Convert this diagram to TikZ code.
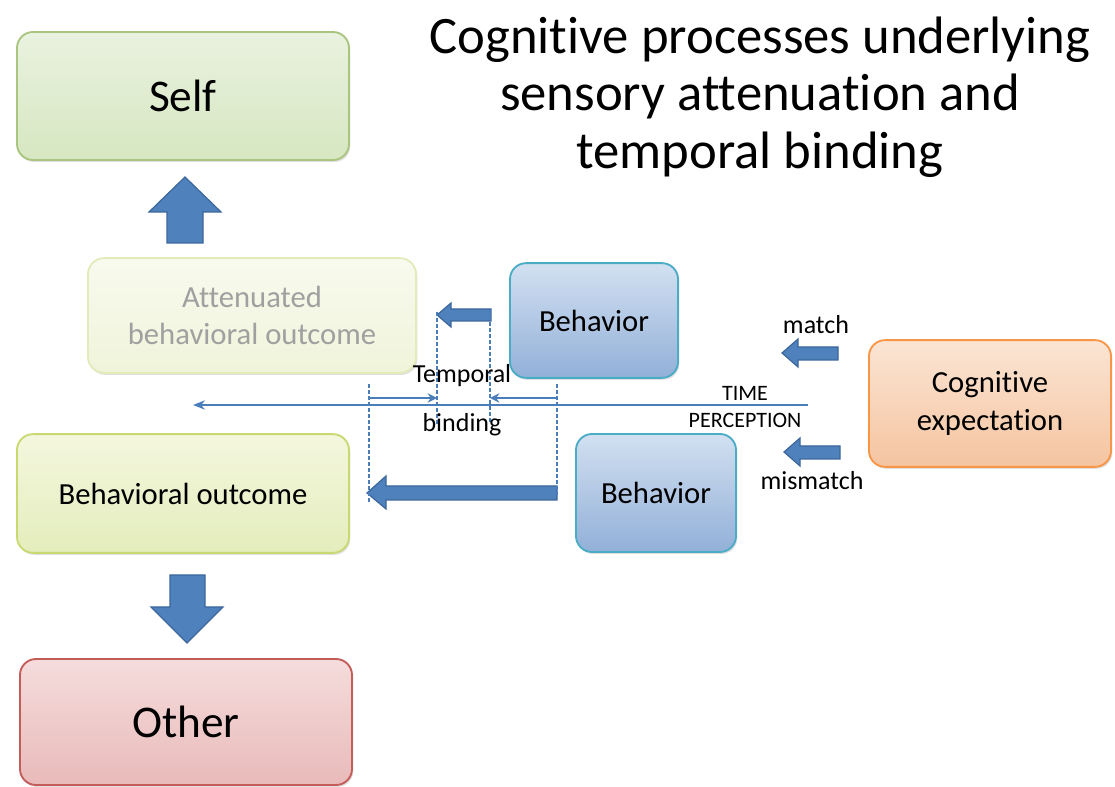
\documentclass[tikz,border=0pt]{standalone}
\usepackage{fontspec}
\setmainfont{Carlito}[Ligatures={NoCommon}]
\usetikzlibrary{shadows,arrows.meta}
\definecolor{arrowblue}{HTML}{4F81BD}
\definecolor{arrowedge}{HTML}{3B679C}
\definecolor{lineblue}{HTML}{4A7EBB}
\tikzset{
  box/.style={rounded corners=12pt, line width=1.4pt, inner sep=0pt, align=center,
    drop shadow={opacity=0.25, shadow xshift=1pt, shadow yshift=-1.5pt}},
  selfbox/.style={box, top color={rgb,255:red,233;green,242;blue,223}, bottom color={rgb,255:red,214;green,231;blue,193}, draw={rgb,255:red,170;green,197;blue,128}},
  attbox/.style={box, top color={rgb,255:red,248;green,250;blue,238}, bottom color={rgb,255:red,240;green,244;blue,218}, draw={rgb,255:red,226;green,235;blue,186}, text={rgb,255:red,160;green,160;blue,160}},
  outbox/.style={box, top color={rgb,255:red,244;green,247;blue,222}, bottom color={rgb,255:red,228;green,237;blue,188}, draw={rgb,255:red,201;green,217;blue,112}},
  otherbox/.style={box, top color={rgb,255:red,245;green,220;blue,220}, bottom color={rgb,255:red,233;green,186;blue,186}, draw={rgb,255:red,196;green,92;blue,90}},
  behbox/.style={box, top color={rgb,255:red,210;green,224;blue,241}, bottom color={rgb,255:red,146;green,176;blue,216}, draw={rgb,255:red,75;green,172;blue,198}},
  cogbox/.style={box, top color={rgb,255:red,251;green,229;blue,212}, bottom color={rgb,255:red,245;green,196;blue,160}, draw={rgb,255:red,247;green,150;blue,70}},
  blockarrow/.style={fill=arrowblue, draw=arrowedge, line width=0.9pt, line join=miter},
  dashline/.style={draw=lineblue, dashed, dash pattern=on 3pt off 1.5pt, line width=0.9pt},
  timeline/.style={draw=lineblue, line width=1.1pt},
  smallarrow/.style={draw=lineblue, line width=1.1pt, -{Stealth[length=7pt,width=7pt]}},
  bigtext/.style={font=\fontsize{34}{40}\selectfont},
  midtext/.style={font=\fontsize{23}{28}\selectfont},
  lbltext/.style={font=\fontsize{19.5}{23}\selectfont, inner sep=0pt},
  smalltext/.style={font=\fontsize{16.5}{20}\selectfont, inner sep=0pt},
}
\begin{document}
\begin{tikzpicture}[x=0.75pt,y=-0.75pt]
\useasboundingbox (0,0) rectangle (1115,787);
% title
\node[font=\fontsize{39.5}{43}\selectfont, align=center, inner sep=0pt, anchor=center] (title) at (760,97)
  {Cognitive processes underlying\\sensory attenuation and\\temporal binding};
% boxes
\node[selfbox, minimum width=249pt, minimum height=96pt, bigtext] (self) at (183,96) {Self};
\node[attbox, minimum width=246pt, minimum height=86pt, midtext] (att) at (252,315.5) {Attenuated\\behavioral outcome};
\node[outbox, minimum width=249pt, minimum height=89pt, midtext] (out) at (183,493.5) {Behavioral outcome};
\node[otherbox, minimum width=249pt, minimum height=94.5pt, bigtext] (other) at (186,722) {Other};
\node[behbox, minimum width=126pt, minimum height=86pt, midtext] (beh1) at (594,320.5) {Behavior};
\node[behbox, minimum width=120pt, minimum height=88.5pt, midtext] (beh2) at (656,493) {Behavior};
\node[cogbox, minimum width=181.5pt, minimum height=95pt, midtext] (cog) at (990,403.5) {Cognitive\\expectation};
% up and down block arrows
\draw[blockarrow] (185,177) -- (221,212) -- (203,212) -- (203,243) -- (167,243) -- (167,212) -- (149,212) -- cycle;
\draw[blockarrow] (187,643) -- (223,607) -- (205,607) -- (205,575) -- (170,575) -- (170,607) -- (151,607) -- cycle;
% match / mismatch block arrows
\draw[blockarrow] (782,353) -- (798,339) -- (798,347) -- (838,347) -- (838,360) -- (798,360) -- (798,367) -- cycle;
\draw[blockarrow] (784,452) -- (800,438) -- (800,446) -- (840,446) -- (840,459) -- (800,459) -- (800,466) -- cycle;
% temporal block arrows
\draw[blockarrow] (437,315) -- (451,303) -- (451,309) -- (491,309) -- (491,321) -- (451,321) -- (451,327) -- cycle;
\draw[blockarrow] (367,493) -- (386,476) -- (386,486) -- (557,486) -- (557,500) -- (386,500) -- (386,509) -- cycle;
% dashed verticals
\coordinate (d1t) at (369,384); \coordinate (d1b) at (369,502);
\coordinate (d2t) at (437,312); \coordinate (d2b) at (437,424);
\coordinate (d3t) at (490,310); \coordinate (d3b) at (490,424);
\coordinate (d4t) at (557,384); \coordinate (d4b) at (557,495);
\draw[dashline] (d1t) -- (d1b);
\draw[dashline] (d2t) -- (d2b);
\draw[dashline] (d3t) -- (d3b);
\draw[dashline] (d4t) -- (d4b);
% time line
\coordinate (tr) at (808,405); \coordinate (tl) at (193,405);
\draw[timeline, -{Stealth[length=9pt,width=7pt]}] (tr) -- (tl);
\coordinate (a1s) at (369,398); \coordinate (a1e) at (437,398);
\coordinate (a2s) at (557,398); \coordinate (a2e) at (490,398);
\draw[smallarrow] (a1s) -- (a1e);
\draw[smallarrow] (a2s) -- (a2e);
% labels
\node[lbltext] (temporal) at (462,376) {Temporal};
\node[lbltext] (binding) at (462,425) {binding};
\node[lbltext] (match) at (816,325) {match};
\node[lbltext] (mismatch) at (812,481) {mismatch};
\node[smalltext] (time) at (745,393) {TIME};
\node[smalltext] (perc) at (745,420) {PERCEPTION};
\end{tikzpicture}
\end{document}
